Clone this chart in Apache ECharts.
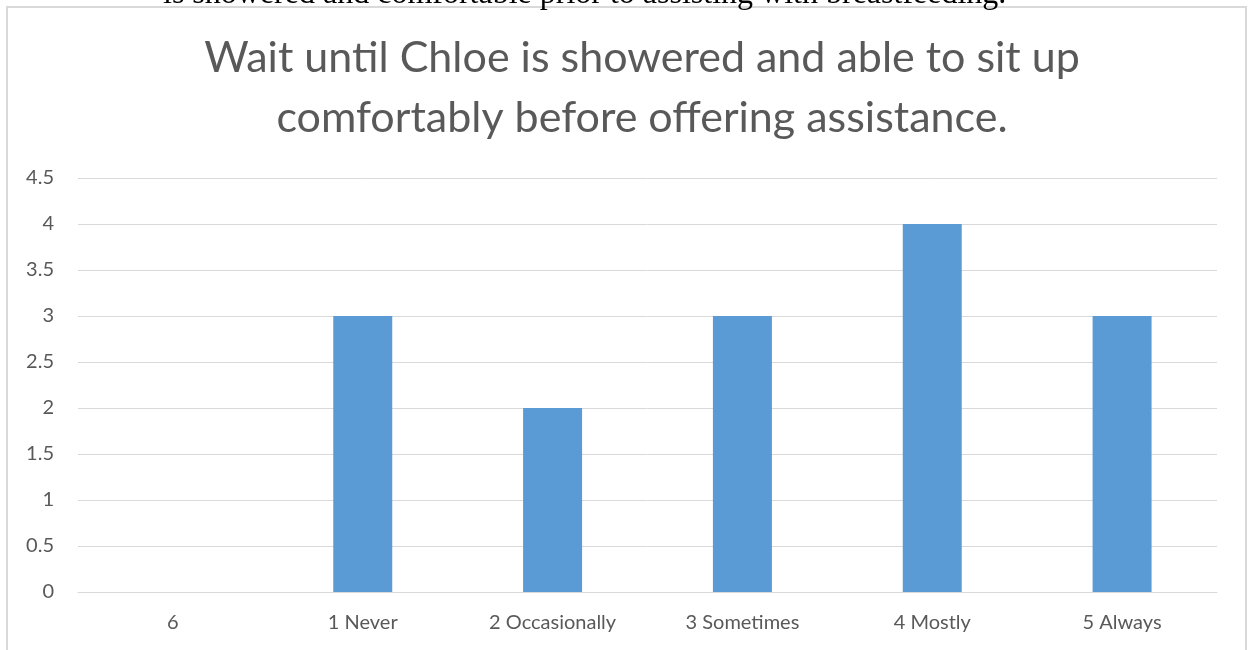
<!DOCTYPE html>
<html>
<head>
<meta charset="utf-8">
<script src="https://cdn.jsdelivr.net/npm/echarts@6/dist/echarts.min.js"></script>
<style>
html,body{margin:0;padding:0;background:#fff;}
#chart{width:1252px;height:650px;}
</style>
</head>
<body>
<div id="chart"></div>
<script>
var categories = ['6', '1 Never', '2 Occasionally', '3 Sometimes', '4 Mostly', '5 Always'];
var values = [0, 3, 2, 3, 4, 3];
var yTicks = { min: 0, max: 4.5, interval: 0.5 };
var titleText = 'Wait until Chloe is showered and able to sit up\ncomfortably before offering assistance.';
var topText = 'is showered and comfortable prior to assisting with breastfeeding.';

var chart = echarts.init(document.getElementById('chart'), null, { renderer: 'canvas' });
var font = 'Lato, "Open Sans", sans-serif';
chart.setOption({
  animation: false,
  graphic: [
    { type: 'rect', shape: { x: 7, y: 7, width: 1239, height: 700 }, style: { fill: 'none', stroke: '#d9d9d9', lineWidth: 2 }, silent: true },
    { type: 'text', style: { x: 163, y: 11, text: topText, font: '32px "Liberation Serif", serif', fill: '#000', verticalAlign: 'bottom' } },
    { type: 'text', style: { x: 642, y: 28, text: titleText, fontFamily: font, fontSize: 43, fontWeight: 'normal', fill: '#595959', lineHeight: 60, align: 'center', verticalAlign: 'top' } }
  ],
  grid: { left: 78, right: 35, top: 178, bottom: 58, containLabel: false },
  xAxis: {
    type: 'category',
    data: categories,
    axisLine: { show: true, lineStyle: { color: '#d9d9d9', width: 1 } },
    axisTick: { show: false },
    axisLabel: { color: '#595959', fontFamily: font, fontSize: 20, margin: 21 }
  },
  yAxis: {
    type: 'value',
    min: yTicks.min, max: yTicks.max, interval: yTicks.interval,
    axisLine: { show: false },
    axisTick: { show: false },
    splitLine: { lineStyle: { color: '#d9d9d9', width: 1 } },
    axisLabel: { color: '#595959', fontFamily: font, fontSize: 20, margin: 24 }
  },
  series: [{
    type: 'bar',
    data: values,
    barWidth: 59,
    itemStyle: { color: '#5b9bd5' }
  }]
});
</script>
</body>
</html>
